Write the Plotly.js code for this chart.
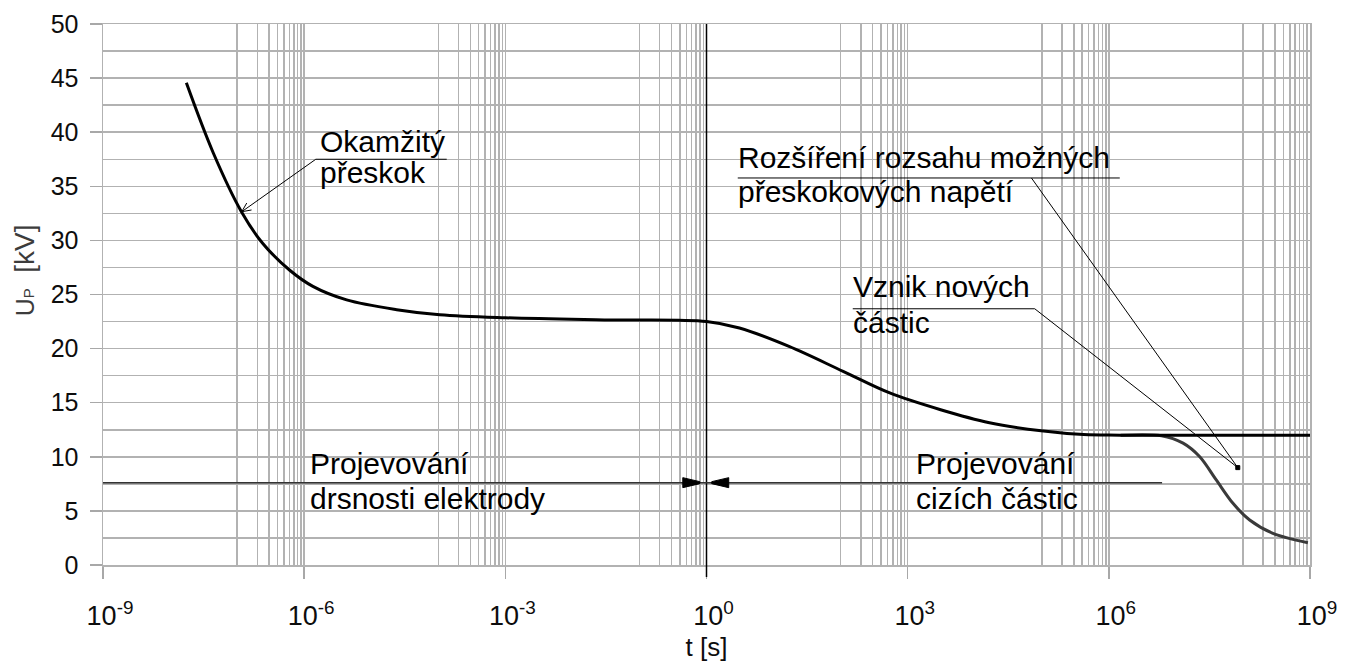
<!DOCTYPE html>
<html>
<head>
<meta charset="utf-8">
<script src="https://cdn.plot.ly/plotly-3.0.1.min.js"></script>
<style>
  html, body { margin: 0; padding: 0; background: #ffffff; }
  #chart { width: 1348px; height: 668px; }
</style>
</head>
<body>
<div id="chart"></div>
<script>
// ---- data ----
// main curve: breakdown voltage U_P [kV] vs time t [s]
const tMain  = [1.75e-8, 4.4e-8, 1.16e-7, 2.4e-7, 6.1e-7, 1.35e-6, 4.3e-6, 2.4e-5, 1.05e-4, 1e-3, 3e-2, 1,
                3.1, 17, 109, 540, 3.1e3, 1.66e4, 9.8e4, 4.2e5, 1.5e6, 1e9];
const upMain = [44.56, 38.1, 32.65, 29.74, 27.24, 25.75, 24.5, 23.6, 23.13, 22.85, 22.65, 22.5,
                21.9, 20.2, 17.9, 15.9, 14.35, 13.15, 12.4, 12.05, 12.0, 12.0];
// lower branch (new particles appear)
const tBranch  = [1.5e6, 6.1e6, 1.28e7, 2.27e7, 4.0e7, 7.1e7, 1.26e8, 2.8e8, 9.3e8];
const upBranch = [12.0, 11.95, 11.26, 10.0, 7.86, 5.7, 4.16, 2.93, 2.06];

// axis ticks
const tTickVals = [1e-9, 1e-6, 1e-3, 1, 1e3, 1e6, 1e9];
const tTickText = ['10<sup>-9</sup>', '10<sup>-6</sup>', '10<sup>-3</sup>', '10<sup>0</sup>',
                   '10<sup>3</sup>', '10<sup>6</sup>', '10<sup>9</sup>'];
const yTickVals = [0, 5, 10, 15, 20, 25, 30, 35, 40, 45, 50];

// texts
const txtOkamzity = ['Okamžitý', 'přeskok'];
const txtRozsireni = ['Rozšíření rozsahu možných', 'přeskokových napětí'];
const txtVznik = ['Vznik nových', 'částic'];
const txtDrsnost = ['Projevování', 'drsnosti elektrody'];
const txtCizi = ['Projevování', 'cizích částic'];

// ---- minor vertical grid: k*10^(n-1) under every labelled decade ----
const minorT = [];
tTickVals.slice(1).forEach(function (v) {
  for (let k = 1; k <= 9; k++) minorT.push(k * v / 10);
});

const GRID = '#b2b2b2';
const TXT = '#0d0d0d';
const FONT = 'Liberation Sans, Arial, sans-serif';
const P = function (e) { return Math.pow(10, e); };

const traces = [
  { x: tBranch, y: upBranch, type: 'scatter', mode: 'lines',
    line: { color: '#3a3a3a', width: 3, shape: 'spline', smoothing: 0.9 }, hoverinfo: 'skip' },
  { x: tMain, y: upMain, type: 'scatter', mode: 'lines',
    line: { color: '#000000', width: 3, shape: 'spline', smoothing: 1 }, hoverinfo: 'skip' }
];

function label(e, v, text) {
  return { xref: 'x', yref: 'y', x: e, y: v, text: text, showarrow: false,
           xanchor: 'left', yanchor: 'middle',
           font: { family: FONT, size: 30, color: '#000' } };
}

const annotations = [
  label(-5.80, 39.16, txtOkamzity[0]),
  label(-5.80, 36.24, txtOkamzity[1]),
  label(0.436, 37.62, txtRozsireni[0]),
  label(0.436, 34.53, txtRozsireni[1]),
  label(2.153, 25.75, txtVznik[0]),
  label(2.153, 22.43, txtVznik[1]),
  label(-5.947, 9.41, txtDrsnost[0]),
  label(-5.947, 6.17, txtDrsnost[1]),
  label(3.09, 9.41, txtCizi[0]),
  label(3.09, 6.17, txtCizi[1]),
  { xref: 'paper', yref: 'paper', x: -0.0649, y: 0.544, textangle: -90, showarrow: false,
    text: '<span style="font-size:25px">U</span><span style="font-size:15px">P</span>\u00a0\u00a0[kV]',
    font: { family: FONT, size: 28, color: '#3c3c3c' }, xanchor: 'center', yanchor: 'middle' }
];

function line(e0, v0, e1, v1, w, c) {
  return { type: 'line', xref: 'x', yref: 'y', x0: P(e0), x1: P(e1), y0: v0, y1: v1,
           line: { color: c || '#000', width: w || 1 } };
}
function head(e, v, path, filled) {
  return { type: 'path', xref: 'x', yref: 'y', xsizemode: 'pixel', ysizemode: 'pixel',
           xanchor: P(e), yanchor: v, path: path,
           fillcolor: filled ? '#000' : 'rgba(0,0,0,0)', line: { color: '#000', width: 1 } };
}

const shapes = [
  // vertical reference line at t = 1 s
  { type: 'line', xref: 'x', yref: 'paper', x0: 1, x1: 1, y0: -0.022, y1: 1,
    line: { color: '#000', width: 1.5 } },
  // underlines of the callouts
  line(-5.827, 37.5, -3.874, 37.5, 1),
  line(0.466, 35.77, 6.163, 35.77, 1),
  line(2.181, 23.68, 4.895, 23.68, 1),
  // pointer lines
  line(-5.827, 37.5, -6.931, 32.65, 1),
  line(4.846, 35.77, 7.923, 9.0, 1),
  line(4.895, 23.68, 7.923, 9.0, 1),
  head(-6.931, 32.65, 'M5,8.7 L0,0 L9.8,1.75', false),
  head(7.923, 9.0, 'M-2,-2 L2,-2 L2,2 L-2,2 Z', true),
  // region line with two arrow heads
  line(-9, 7.61, 6.794, 7.61, 1.5, '#333'),
  head(-0.1, 7.61, 'M0,-1 L0,1 L-17,5 L-17,-5 Z', true),
  head(0.078, 7.61, 'M0,-1 L0,1 L17,5 L17,-5 Z', true)
];

const layout = {
  width: 1348, height: 668,
  margin: { l: 103, r: 38, t: 24, b: 103, pad: 0 },
  paper_bgcolor: '#fff', plot_bgcolor: '#fff',
  showlegend: false,
  font: { family: FONT, color: TXT },
  xaxis: {
    type: 'log', range: [-9, 9], autorange: false,
    tickmode: 'array', tickvals: tTickVals, ticktext: tTickText,
    ticks: 'outside', ticklen: 12, tickwidth: 1.5, tickcolor: '#a8a8a8',
    showgrid: true, gridcolor: GRID, gridwidth: 1.5,
    showline: true, mirror: true, linecolor: GRID, linewidth: 1.5,
    zeroline: false,
    tickfont: { family: 'Liberation Sans Narrow, Arial Narrow, Liberation Sans, sans-serif', size: 27, color: TXT },
    ticklabelstandoff: 14, ticklabelshift: 7,
    minor: { tickmode: 'array', tickvals: minorT, showgrid: true, gridcolor: GRID, gridwidth: 1.5, ticks: '' },
    title: { text: 't [s]', font: { family: FONT, size: 26, color: TXT }, standoff: 8 }
  },
  yaxis: {
    range: [0, 50], autorange: false,
    tickmode: 'array', tickvals: yTickVals,
    ticks: 'outside', ticklen: 12, tickwidth: 1.5, tickcolor: '#a8a8a8',
    showgrid: true, gridcolor: GRID, gridwidth: 1.5,
    showline: true, mirror: true, linecolor: GRID, linewidth: 1.5,
    zeroline: false,
    tickfont: { family: FONT, size: 25, color: TXT },
    ticklabelstandoff: 6,
    minor: { dtick: 2.5, tick0: 0, showgrid: true, gridcolor: GRID, gridwidth: 1.5, ticks: '' }
  },
  annotations: annotations,
  shapes: shapes
};

Plotly.newPlot('chart', traces, layout, { staticPlot: true, displayModeBar: false });
</script>
</body>
</html>
